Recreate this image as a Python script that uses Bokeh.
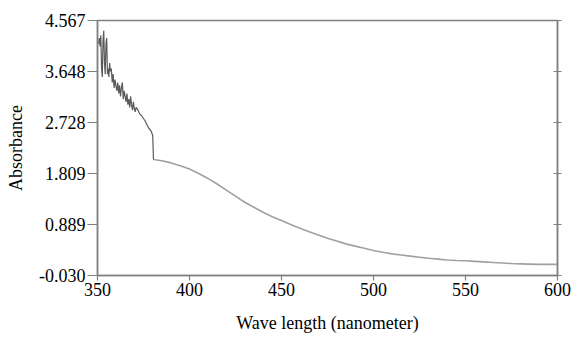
from bokeh.plotting import figure
from bokeh.models import (Range1d, FixedTicker, NumeralTickFormatter, LinearAxis,
                          CustomLabelingPolicy)
from bokeh.embed import file_html
from bokeh.resources import INLINE

# Noisy UV region (350-380 nm)
wl_noisy = [350.6, 351.0, 351.4, 351.8, 352.2, 352.6, 353.0, 353.4, 353.8, 354.2,
            354.6, 355.0, 355.4, 355.8, 356.2, 356.6, 357.0, 357.5, 358.0, 358.5,
            359.0, 359.5, 360.0, 360.5, 361.0, 361.5, 362.0, 362.5, 363.0, 363.5,
            364.0, 364.5, 365.0, 365.5, 366.0, 366.5, 367.0, 367.5, 368.0, 368.5,
            369.0, 369.5, 370.0, 370.5, 371.0, 372.0, 373.0, 374.0, 375.0, 376.0,
            377.0, 378.0, 379.0, 380.0, 380.3]
abs_noisy = [4.15, 4.25, 4.10, 4.30, 3.70, 3.55, 4.20, 4.38, 3.80, 3.60,
             4.15, 4.25, 3.60, 3.70, 3.55, 3.80, 3.65, 3.70, 3.45, 3.60,
             3.35, 3.50, 3.40, 3.30, 3.45, 3.25, 3.40, 3.20, 3.35, 3.45,
             3.15, 3.30, 3.20, 3.10, 3.25, 3.05, 3.15, 3.00, 3.20, 3.05,
             2.95, 3.10, 2.98, 2.92, 3.00, 2.95, 2.88, 2.85, 2.80, 2.75,
             2.68, 2.62, 2.58, 2.50, 2.20]

# Smooth visible region (380-600 nm)
wl_smooth = [380.4, 385, 390, 395, 400, 405, 410, 415, 420, 425, 430, 435, 440,
             445, 450, 455, 460, 465, 470, 475, 480, 485, 490, 495, 500, 505,
             510, 515, 520, 525, 530, 535, 540, 545, 550, 555, 560, 565, 570,
             575, 580, 585, 590, 595, 600]
abs_smooth = [2.06, 2.04, 2.00, 1.95, 1.89, 1.81, 1.72, 1.62, 1.51, 1.40, 1.29,
              1.20, 1.11, 1.03, 0.96, 0.89, 0.82, 0.76, 0.70, 0.64, 0.59, 0.54,
              0.50, 0.46, 0.42, 0.39, 0.36, 0.34, 0.32, 0.30, 0.28, 0.265, 0.25,
              0.24, 0.235, 0.225, 0.215, 0.205, 0.195, 0.185, 0.18, 0.175, 0.17,
              0.17, 0.17]

x_ticks = [350, 400, 450, 500, 550, 600]
y_ticks = [-0.030, 0.889, 1.809, 2.728, 3.648, 4.567]

FONT = "Liberation Serif"
AXIS_GRAY = "#808080"

p = figure(width=572, height=337, output_backend="svg", toolbar_location=None,
           x_range=Range1d(350, 600), y_range=Range1d(-0.030, 4.567),
           min_border_left=97, min_border_right=15, min_border_top=20,
           min_border_bottom=62)

p.line(wl_smooth, abs_smooth, line_color="#a0a0a0", line_width=1.6)
p.line(wl_noisy + wl_smooth[:1], abs_noisy + abs_smooth[:1],
       line_color="#5a5a5a", line_width=1.2)

p.xgrid.visible = False
p.ygrid.visible = False
p.outline_line_color = AXIS_GRAY
p.outline_line_width = 1.5
p.background_fill_color = "white"
p.border_fill_color = "white"

xa = p.xaxis[0]
xa.ticker = FixedTicker(ticks=x_ticks)
xa.minor_tick_line_color = None
xa.major_tick_in = 0
xa.major_tick_out = 5
xa.major_label_standoff = 2
xa.axis_label = "Wave length (nanometer)"
xa.axis_label_standoff = 14

ya = p.yaxis[0]
ya.ticker = FixedTicker(ticks=y_ticks)
ya.formatter = NumeralTickFormatter(format="0.000")
ya.minor_tick_line_color = None
ya.major_tick_in = 0
ya.major_tick_out = 10
ya.major_label_standoff = 2
ya.axis_label = "Absorbance"
ya.axis_label_standoff = 10

for ax in (xa, ya):
    ax.axis_line_color = AXIS_GRAY
    ax.axis_line_width = 1.5
    ax.major_tick_line_color = AXIS_GRAY
    ax.major_tick_line_width = 1.2
    ax.major_label_text_font = FONT
    ax.major_label_text_font_size = "18px"
    ax.major_label_text_color = "black"
    ax.axis_label_text_font = FONT
    ax.axis_label_text_font_size = "18px"
    ax.axis_label_text_font_style = "normal"
    ax.axis_label_text_color = "black"

ra = LinearAxis(ticker=FixedTicker(ticks=y_ticks))
ra.major_label_policy = CustomLabelingPolicy(code="""
    for (const i of indices) { indices.unset(i) }
    return indices
""")
ra.major_label_text_font_size = "1px"
ra.major_label_standoff = 0
ra.minor_tick_line_color = None
ra.major_tick_in = 4
ra.major_tick_out = 4
ra.axis_line_color = AXIS_GRAY
ra.major_tick_line_color = AXIS_GRAY
ra.axis_line_width = 1.5
p.add_layout(ra, "right")

open("out.html", "w").write(file_html(p, INLINE))
